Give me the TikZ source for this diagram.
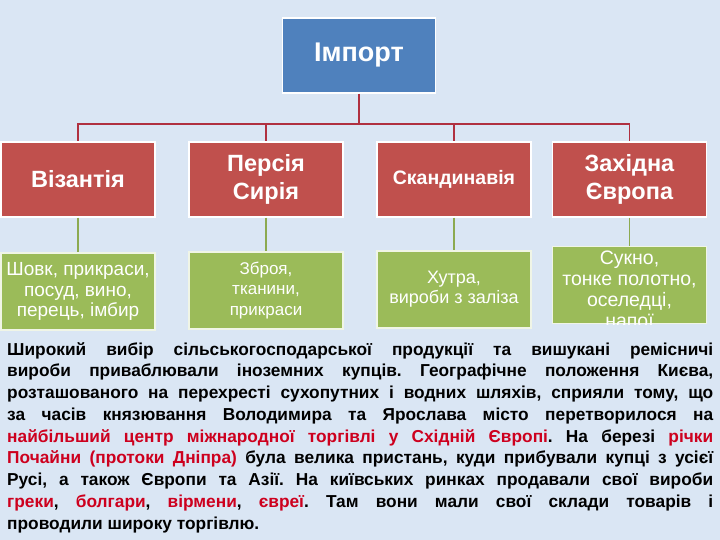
\documentclass[tikz,border=0pt]{standalone}
\usepackage{fontspec}
\setmainfont{Liberation Sans}
\newfontfamily\parafont[WordSpace={1,1,1.9}]{Liberation Sans}
\definecolor{bgblue}{RGB}{218,230,244}
\definecolor{boxblue}{RGB}{79,129,189}
\definecolor{boxred}{RGB}{192,80,77}
\definecolor{boxgreen}{RGB}{155,187,89}
\definecolor{linered}{RGB}{176,48,64}
\definecolor{linegreen}{RGB}{140,170,80}
\definecolor{txtred}{RGB}{205,0,30}
\tikzset{
  topbox/.style={rectangle, fill=boxblue, draw=white, line width=1.2pt, minimum width=153pt, minimum height=75pt, text=white, font=\fontsize{27}{30}\selectfont\bfseries, inner sep=0pt},
  redbox/.style={rectangle, fill=boxred, draw=white, line width=1.2pt, minimum width=154pt, minimum height=75pt, text=white, align=center, font=\fontsize{23.5}{28}\selectfont\bfseries, inner sep=0pt},
  greenbox/.style={rectangle, fill=boxgreen, draw=white!85!boxgreen, line width=1.2pt, minimum width=154pt, minimum height=77pt, text=white, align=center, font=\fontsize{19}{20.5}\selectfont, inner sep=0pt},
  redline/.style={draw=linered, line width=1.5pt},
  greenline/.style={draw=linegreen, line width=1.5pt},
}
\newcommand{\rd}[1]{\textcolor{txtred}{#1}}
\begin{document}
\begin{tikzpicture}[x=1pt,y=-1pt]
\fill[bgblue] (0,0) rectangle (720,540);
\useasboundingbox (0,0) rectangle (720,540);

\node[topbox] (imp) at (359,55.5) {Імпорт};

\node[redbox] (byz) at (78,179.5) {Візантія};
\node[redbox] (per) at (266,179.5) {Персія\\Сирія};
\node[redbox, font=\fontsize{19.5}{23}\selectfont\bfseries] (sca) at (454,179.5) {Скандинавія};
\node[redbox] (wes) at (629.5,179.5) {Західна\\Європа};

\node[greenbox] (byzg) at (78,291.5) {Шовк, прикраси,\\посуд, вино,\\перець, імбир};
\node[greenbox, font=\fontsize{17}{20.5}\selectfont] (perg) at (266,290.5) {Зброя,\\тканини,\\прикраси};
\node[greenbox, font=\fontsize{18}{20}\selectfont] (scag) at (454,289.5) {Хутра,\\вироби з заліза};
\node[greenbox] (wesg) at (629.5,285) {};
\begin{scope}
  \clip (wesg.north west) rectangle (wesg.south east);
  \node[text=white, align=center, font=\fontsize{19.5}{21}\selectfont, anchor=north] (wesgt) at (629.5,247) {Сукно,\\тонке полотно,\\оселедці,\\напої};
\end{scope}

\coordinate (bus) at (359,124);
\draw[redline] (imp.south) -- (bus);
\draw[redline] (bus) -| (byz.north);
\draw[redline] (bus) -| (per.north);
\draw[redline] (bus) -| (sca.north);
\draw[redline] (bus) -| (wes.north);

\draw[greenline] (byz) -- (byzg);
\draw[greenline] (per) -- (perg);
\draw[greenline] (sca) -- (scag);
\draw[greenline] (wes) -- (wesg);

\node[anchor=north west, text width=706pt, align=justify, inner sep=0pt,
      font=\parafont\fontsize{17.3}{21.75}\selectfont\bfseries\frenchspacing] (para) at (7,342)
{Широкий вибір сільськогосподарської продукції та вишукані ремісничі\linebreak
вироби приваблювали іноземних купців. Географічне положення Києва,\linebreak
розташованого на перехресті сухопутних і водних шляхів, сприяли тому, що\linebreak
за часів князювання Володимира та Ярослава місто перетворилося на\linebreak
\rd{найбільший центр міжнародної торгівлі у Східній Європі}. На березі \rd{річки}\linebreak
\rd{Почайни (протоки Дніпра)} була велика пристань, куди прибували купці з усієї\linebreak
Русі, а також Європи та Азії. На київських ринках продавали свої вироби\linebreak
\rd{греки}, \rd{болгари}, \rd{вірмени}, \rd{євреї}. Там вони мали свої склади товарів і\linebreak
проводили широку торгівлю.};
\end{tikzpicture}
\end{document}
